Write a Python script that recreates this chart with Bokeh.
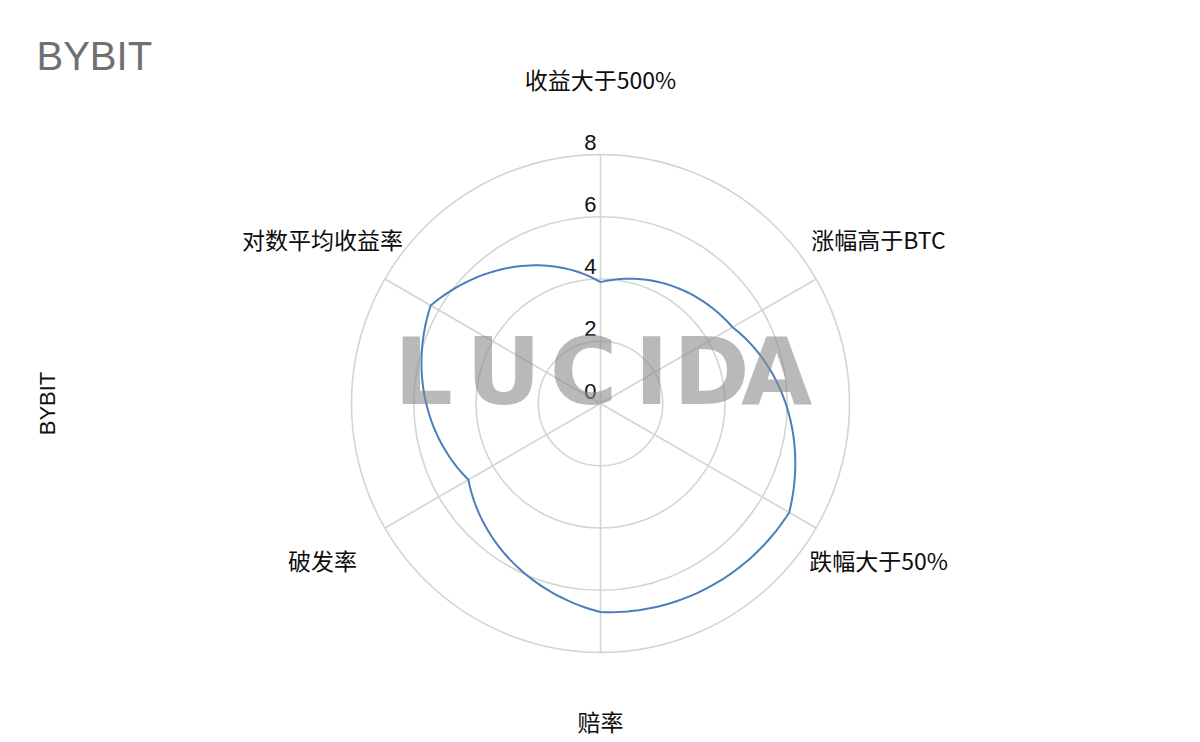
import numpy as np
from bokeh.plotting import figure
from bokeh.models import Range1d
from bokeh.core.properties import value
from bokeh.embed import file_html
from bokeh.resources import INLINE

# ---- data ----
title_text = "BYBIT"
series_name = "BYBIT"
categories = ["收益大于500%", "涨幅高于BTC", "跌幅大于50%", "赔率", "破发率", "对数平均收益率"]
values = [3.9, 4.9, 7.0, 6.7, 4.9, 6.3]
ticks = [0, 2, 4, 6, 8]
watermark = "LUCIDA"

# ---- layout ----
W, H = 1200, 742
RMAX_PX = 249.0
PX = RMAX_PX / ticks[-1]          # pixels per unit
CX, CY = 600.0, 403.0             # centre in page pixels
x0 = (0 - CX) / PX
x1 = (W - CX) / PX
y1 = CY / PX
y0 = (CY - H) / PX

def ix(px):
    return (px - CX) / PX

def iy(py):
    return (CY - py) / PX

p = figure(width=W, height=H, x_range=Range1d(x0, x1), y_range=Range1d(y0, y1),
           output_backend="svg", toolbar_location=None, min_border=0,
           x_axis_location=None, y_axis_location=None, outline_line_color=None)
p.grid.visible = False
p.background_fill_color = "white"
p.border_fill_color = "white"

n = len(categories)
theta = np.deg2rad(90 - 360.0 / n * np.arange(n))
rmax = ticks[-1]

# rings
ring_r = [t for t in ticks if t > 0]
p.circle(x=[0] * len(ring_r), y=[0] * len(ring_r), radius=ring_r,
         fill_color=None, line_color="#d4d4d4", line_width=1.6)
# spokes
p.segment(x0=[0] * n, y0=[0] * n, x1=list(rmax * np.cos(theta)), y1=list(rmax * np.sin(theta)),
          line_color="#d4d4d4", line_width=1.6)

# series line: radius interpolated linearly in angle (polar line)
xs, ys = [], []
step = 2 * np.pi / n
for i in range(n):
    j = (i + 1) % n
    for s in np.linspace(0, 1, 40, endpoint=False):
        t = theta[i] - step * s
        rr = values[i] + (values[j] - values[i]) * s
        xs.append(rr * np.cos(t))
        ys.append(rr * np.sin(t))
xs.append(xs[0]); ys.append(ys[0])
p.line(xs, ys, line_color="#4a7ebb", line_width=2.0)

# tick labels
p.text(x=[-4 / PX] * len(ticks), y=[t + 12.5 / PX for t in ticks], text=[str(t) for t in ticks],
       text_font=value("Liberation Sans"), text_font_size="22px", text_color="#111111",
       text_align="right", text_baseline="middle")

# category labels
LR = 321 / PX
p.text(x=list(LR * np.cos(theta)), y=list(LR * np.sin(theta) + 4 / PX), text=categories,
       text_font=value("Noto Sans CJK SC"), text_font_size="23px", text_color="#0d0d0d",
       text_align="center", text_baseline="middle")

# title
p.text(x=[ix(36)], y=[iy(55)], text=[title_text], text_font=value("Liberation Sans"),
       text_font_size="40px", text_color="#707070", text_align="left", text_baseline="middle")

# y-axis style series label
p.text(x=[ix(47)], y=[0], text=[series_name], angle=np.pi / 2, text_font=value("Liberation Sans"),
       text_font_size="22px", text_color="#111111", text_align="center", text_baseline="middle")

# watermark
wm_centers_px = [423, 503, 583, 651, 711, 776]
p.text(x=[ix(c) for c in wm_centers_px], y=[iy(372)] * len(watermark), text=list(watermark),
       text_font=value("DejaVu Sans"), text_font_style="bold", text_font_size="92px",
       text_color="#8a8a8a", text_alpha=0.6, text_align="center", text_baseline="middle")

open("out.html", "w").write(file_html(p, INLINE))
